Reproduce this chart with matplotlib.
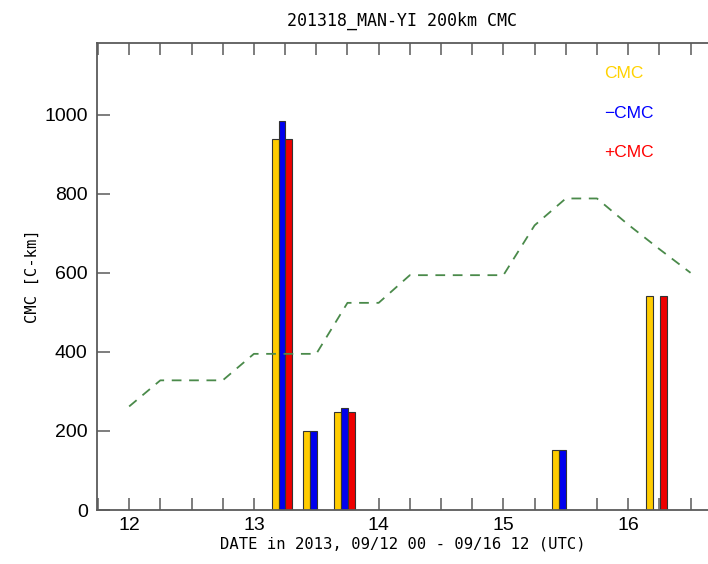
import numpy as np
import matplotlib
matplotlib.use("Agg")
import matplotlib.pyplot as plt
from matplotlib.ticker import MultipleLocator

plt.rcParams['lines.scale_dashes'] = False

# bar data (day of month, 6-hourly)
bar_times = [13.25, 13.5, 13.75, 15.5, 16.25]
cmc = [938, 199, 247, 152, 542]
minus_cmc = [984, 199, 257, 152, 0]
plus_cmc = [938, 0, 247, 0, 542]

# dashed green line
line_times = [12.0, 12.25, 12.5, 12.75, 13.0, 13.25, 13.5, 13.75, 14.0, 14.25,
              14.5, 14.75, 15.0, 15.25, 15.5, 15.75, 16.0, 16.25, 16.5]
line_vals = [262, 328, 328, 328, 395, 395, 395, 524, 524, 594,
             594, 594, 594, 720, 788, 788, 722, 660, 600]

x_ticks = [12, 13, 14, 15, 16]
y_ticks = [0, 200, 400, 600, 800, 1000]

narrow = ['Liberation Sans', 'DejaVu Sans']
mono = ['DejaVu Sans Mono']

yellow = '#FFCC00'
blue = '#0000EE'
red = '#EE0000'
axcol = '#5a5a5a'

fig = plt.figure(figsize=(7.08, 5.64), dpi=100)
ax = fig.add_axes([0.1366, 0.0957, 0.8634, 0.8286])

w = 0.055
off = -0.025
t = np.array(bar_times)
ax.bar(t + off - w, cmc, width=w, color=yellow, edgecolor='#333333', linewidth=0.8, zorder=2)
ax.bar(t + off, minus_cmc, width=w, color=blue, edgecolor='#333333', linewidth=0.8, zorder=2)
ax.bar(t + off + w, plus_cmc, width=w, color=red, edgecolor='#333333', linewidth=0.8, zorder=2)

ax.plot(line_times, line_vals, color='#4a8a4a', lw=1.3, dashes=(7, 5.5), zorder=3)

ax.set_xlim(11.74, 16.64)
ax.set_ylim(0, 1182)

ax.set_xticks(x_ticks)
ax.xaxis.set_minor_locator(MultipleLocator(0.25))
ax.set_yticks(y_ticks)
ax.tick_params(axis='x', which='both', direction='in', length=8.8, width=1.1,
               color=axcol, top=True, pad=5)
ax.tick_params(axis='y', which='both', direction='in', length=9.4, width=1.1,
               color=axcol, right=False, pad=6.5)

for lab in ax.get_xticklabels() + ax.get_yticklabels():
    lab.set_family(narrow)
    lab.set_fontsize(14)

for s in ['left', 'bottom', 'top']:
    ax.spines[s].set_color(axcol)
    ax.spines[s].set_linewidth(1.3)
ax.spines['right'].set_visible(False)

ax.set_title('201318_MAN-YI 200km CMC', family=mono, fontsize=12, pad=12)
ax.set_xlabel('DATE in 2013, 09/12 00 - 09/16 12 (UTC)', family=mono, fontsize=11.2, labelpad=2)
ax.set_ylabel('CMC [C-km]', family=mono, fontsize=11.2)
ax.yaxis.set_label_coords(-0.093, 0.5)

ax.text(15.81, 1104, 'CMC', color='#FFD200', family=narrow, fontsize=12.5, va='center')
ax.text(15.81, 1003, '\u2212CMC', color='#0000FF', family=narrow, fontsize=12.5, va='center')
ax.text(15.81, 905, '+CMC', color='#FF0000', family=narrow, fontsize=12.5, va='center')

fig.savefig('out.png', dpi=100)
